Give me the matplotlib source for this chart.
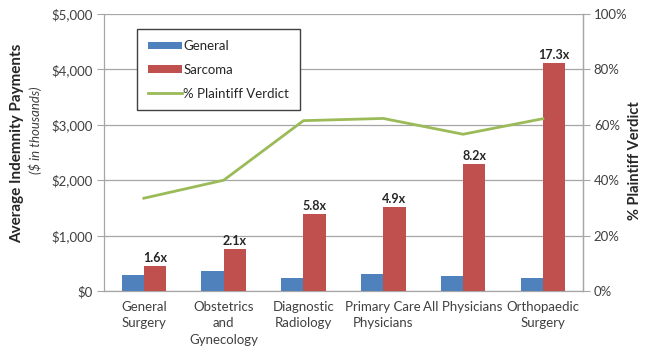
import matplotlib
matplotlib.use("Agg")
import matplotlib.pyplot as plt
import numpy as np

plt.rcParams['font.family'] = ['Lato', 'DejaVu Sans']

categories = ["General\nSurgery", "Obstetrics\nand\nGynecology", "Diagnostic\nRadiology",
              "Primary Care\nPhysicians", "All Physicians", "Orthopaedic\nSurgery"]
general = [290, 366, 240, 305, 275, 238]
sarcoma = [455, 760, 1390, 1510, 2290, 4120]
ratio_labels = ["1.6x", "2.1x", "5.8x", "4.9x", "8.2x", "17.3x"]
plaintiff_pct = [33.5, 40.0, 61.5, 62.3, 56.6, 62.2]
left_ticks = [0, 1000, 2000, 3000, 4000, 5000]
left_ticklabels = ["$0", "$1,000", "$2,000", "$3,000", "$4,000", "$5,000"]
right_ticks = [0, 20, 40, 60, 80, 100]
right_ticklabels = ["0%", "20%", "40%", "60%", "80%", "100%"]

blue = "#4F81BD"
red = "#C0504D"
green = "#9BBB59"
grid_c = "#A6A6A6"
txt_c = "#404040"

fig = plt.figure(figsize=(6.47, 3.53), dpi=100)
ax = fig.add_axes([0.1607, 0.1756, 0.7400, 0.7847])
x = np.arange(len(categories))
w = 0.28
b1 = ax.bar(x - w / 2, general, w, color=blue, label="General", zorder=3)
b2 = ax.bar(x + w / 2, sarcoma, w, color=red, label="Sarcoma", zorder=3)
for xi, v, lab in zip(x, sarcoma, ratio_labels):
    ax.text(xi + w / 2, v + 40, lab, ha="center", va="bottom", fontsize=9,
            fontweight="bold", color="#262626", zorder=5)

ax.set_xlim(-0.5, len(categories) - 0.5)
ax.set_ylim(0, 5000)
ax.set_yticks(left_ticks)
ax.set_yticklabels(left_ticklabels)
ax.set_xticks(x)
ax.set_xticklabels(categories, fontsize=9.5, color=txt_c, linespacing=1.45)
ax.tick_params(axis="x", length=0, pad=7)
ax.tick_params(axis="y", length=5, color=grid_c, labelsize=9.5, labelcolor=txt_c, pad=3)
ax.yaxis.grid(True, color=grid_c, linewidth=0.9, zorder=0)
ax.set_axisbelow(True)
ax.spines["top"].set_visible(False)
for s in ["left", "right", "bottom"]:
    ax.spines[s].set_color(grid_c)
    ax.spines[s].set_linewidth(0.9)

ax2 = ax.twinx()
ln, = ax2.plot(x, plaintiff_pct, color=green, linewidth=2, label="% Plaintiff Verdict", zorder=4)
ax2.set_ylim(0, 100)
ax2.set_yticks(right_ticks)
ax2.set_yticklabels(right_ticklabels)
ax2.tick_params(axis="y", length=5, color=grid_c, labelsize=9.5, labelcolor=txt_c, pad=3)
for s in ["top", "left", "bottom"]:
    ax2.spines[s].set_visible(False)
ax2.spines["right"].set_color(grid_c)
ax2.spines["right"].set_linewidth(0.9)

fig.text(0.026, 0.595, "Average Indemnity Payments", rotation=90, ha="center", va="center",
         fontsize=11, fontweight="bold", color="#262626")
fig.text(0.055, 0.63, "($ in thousands)", rotation=90, ha="center", va="center",
         fontsize=9.5, fontstyle="italic", color=txt_c)
fig.text(0.982, 0.545, "% Plaintiff Verdict", rotation=90, ha="center", va="center",
         fontsize=10.5, fontweight="bold", color="#262626")

leg = ax2.legend([b1, b2, ln], ["General", "Sarcoma", "% Plaintiff Verdict"],
                 loc="upper left", bbox_to_anchor=(0.069, 0.945), fontsize=9.5,
                 frameon=True, fancybox=False, edgecolor="#404040", framealpha=1,
                 handlelength=2.6, handleheight=0.45, handletextpad=0.1,
                 labelspacing=0.9, borderpad=0.8, borderaxespad=0)
leg.get_frame().set_linewidth(1.0)
for t in leg.get_texts():
    t.set_color("#262626")

fig.savefig("out.png", dpi=100)
